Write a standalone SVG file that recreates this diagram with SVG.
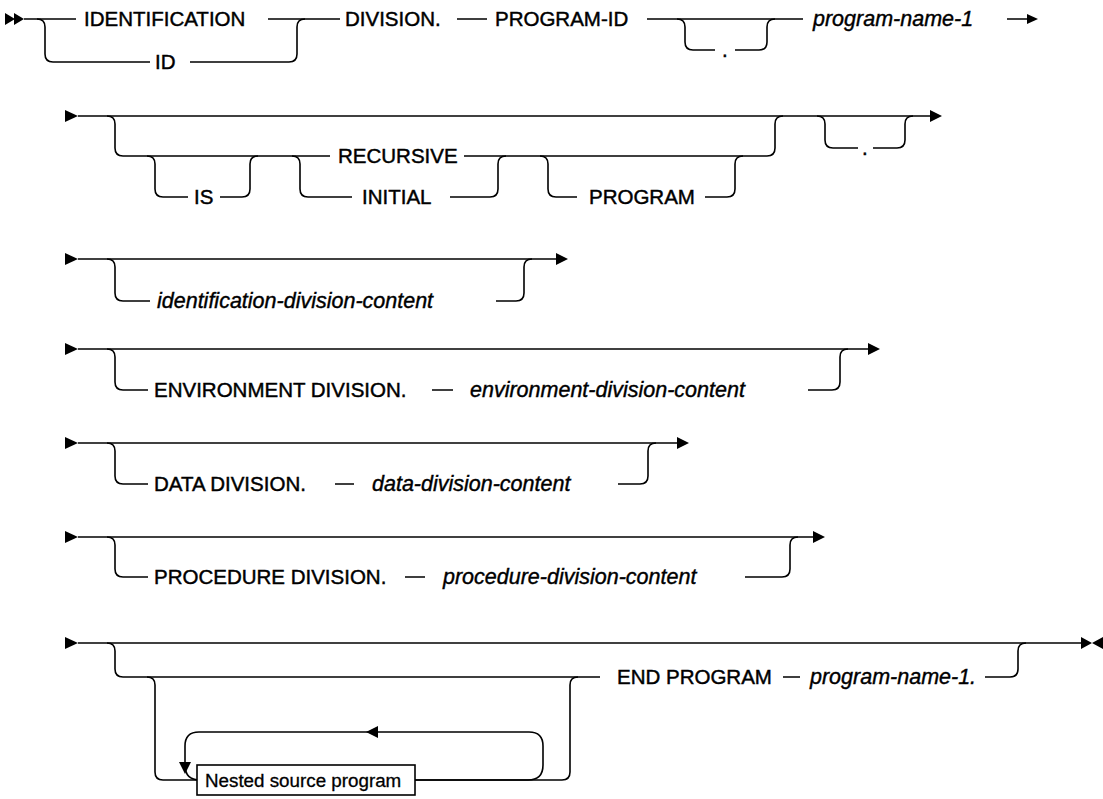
<svg xmlns="http://www.w3.org/2000/svg" width="1103" height="799" viewBox="0 0 1103 799">
<style>
.ln{fill:none;stroke:#000;stroke-width:1.6}
.ah{fill:#000;stroke:none}
.kw{font-family:"Liberation Sans",Arial,sans-serif;font-size:20.5px;fill:#000;stroke:#000;stroke-width:0.45}
.it{font-family:"Liberation Sans",Arial,sans-serif;font-size:21.5px;font-style:italic;fill:#000;stroke:#000;stroke-width:0.4}
.bx{fill:#fff;stroke:#000;stroke-width:1.6}
.bt{font-family:"Liberation Sans",Arial,sans-serif;font-size:18.8px;fill:#000;stroke:#000;stroke-width:0.3}
</style>
<rect width="1103" height="799" fill="#fff"/>
<g id="connectors">
<!-- row 1 -->
<path class="ah" d="M5,13 L15,19 L5,25 Z M14,13 L24,19 L14,25 Z"/>
<path class="ln" d="M24,19 H76 M268,19 H340 M457,19 H487 M647,19 H803 M1007,19 H1029"/>
<path class="ln" d="M37,19 Q45,19 45,27 V54 Q45,62 53,62 H150 M190,62 H289 Q297,62 297,54 V27 Q297,19 305,19"/>
<path class="ln" d="M677,19 Q685,19 685,27 V42 Q685,50 693,50 H715 M735,50 H759 Q767,50 767,42 V27 Q767,19 775,19"/>
<path class="ah" d="M1027,14 L1038,19 L1027,24 Z"/>
<!-- row 2 -->
<path class="ah" d="M65,110 L78,116 L65,122 Z"/>
<path class="ln" d="M78,116 H931"/>
<path class="ah" d="M930,110 L942,116 L930,122 Z"/>
<path class="ln" d="M107,116 Q115,116 115,124 V148 Q115,156 123,156 H330 M464,156 H767 Q775,156 775,148 V124 Q775,116 783,116"/>
<path class="ln" d="M147,156 Q155,156 155,164 V189 Q155,197 163,197 H188 M220,197 H242 Q250,197 250,189 V164 Q250,156 258,156"/>
<path class="ln" d="M292,156 Q300,156 300,164 V189 Q300,197 308,197 H352 M450,197 H490 Q498,197 498,189 V164 Q498,156 506,156"/>
<path class="ln" d="M540,156 Q548,156 548,164 V189 Q548,197 556,197 H577 M705,197 H727 Q735,197 735,189 V164 Q735,156 743,156"/>
<path class="ln" d="M817,116 Q825,116 825,124 V140 Q825,148 833,148 H858 M873,148 H897 Q905,148 905,140 V124 Q905,116 913,116"/>
<!-- row 3 -->
<path class="ah" d="M65,253 L78,259 L65,265 Z"/>
<path class="ln" d="M78,259 H557"/>
<path class="ah" d="M556,253 L568,259 L556,265 Z"/>
<path class="ln" d="M107,259 Q115,259 115,267 V293 Q115,301 123,301 H150 M496,301 H516 Q524,301 524,293 V267 Q524,259 532,259"/>
<!-- row 4 -->
<path class="ah" d="M65,343 L78,349 L65,355 Z"/>
<path class="ln" d="M78,349 H869"/>
<path class="ah" d="M868,343 L880,349 L868,355 Z"/>
<path class="ln" d="M107,349 Q115,349 115,357 V382 Q115,390 123,390 H148 M432,390 H453 M808,390 H832 Q840,390 840,382 V357 Q840,349 848,349"/>
<!-- row 5 -->
<path class="ah" d="M65,437 L78,443 L65,449 Z"/>
<path class="ln" d="M78,443 H678"/>
<path class="ah" d="M677,437 L689,443 L677,449 Z"/>
<path class="ln" d="M107,443 Q115,443 115,451 V476 Q115,484 123,484 H148 M335,484 H354 M618,484 H640 Q648,484 648,476 V451 Q648,443 656,443"/>
<!-- row 6 -->
<path class="ah" d="M65,531 L78,537 L65,543 Z"/>
<path class="ln" d="M78,537 H814"/>
<path class="ah" d="M813,531 L825,537 L813,543 Z"/>
<path class="ln" d="M107,537 Q115,537 115,545 V569 Q115,577 123,577 H148 M405,577 H425 M745,577 H782 Q790,577 790,569 V545 Q790,537 798,537"/>
<!-- row 7 -->
<path class="ah" d="M65,637 L78,643 L65,649 Z"/>
<path class="ln" d="M78,643 H1082"/>
<path class="ah" d="M1081,637 L1092,643 L1081,649 Z M1103,637 L1092,643 L1103,649 Z"/>
<path class="ln" d="M107,643 Q115,643 115,651 V669 Q115,677 123,677 H600 M783,677 H800 M985,677 H1010 Q1018,677 1018,669 V651 Q1018,643 1026,643"/>
<path class="ln" d="M147,677 Q155,677 155,685 V772 Q155,780 163,780 H197 M415,780 H562 Q570,780 570,772 V685 Q570,677 578,677"/>
<path class="ln" d="M415,780 H528 Q543,780 543,765 V746 Q543,732 529,732 H199 Q185,732 185,746 V765 Q185,780 200,780"/>
<path class="ah" d="M378,726 L366,732 L378,738 Z"/>
<path class="ah" d="M179,762 L185,774 L191,762 Z"/>
</g>
<g id="n-identification"><text class="kw" x="84" y="26">IDENTIFICATION</text></g>
<g id="n-id"><text class="kw" x="155" y="69">ID</text></g>
<g id="n-division"><text class="kw" x="345" y="26">DIVISION.</text></g>
<g id="n-program-id"><text class="kw" x="495" y="26">PROGRAM-ID</text></g>
<g id="n-dot1"><text class="kw" x="722" y="57">.</text></g>
<g id="n-program-name"><text class="it" x="813" y="26">program-name-1</text></g>
<g id="n-is"><text class="kw" x="194" y="204">IS</text></g>
<g id="n-recursive"><text class="kw" x="338" y="163">RECURSIVE</text></g>
<g id="n-initial"><text class="kw" x="362" y="204">INITIAL</text></g>
<g id="n-program"><text class="kw" x="589" y="204">PROGRAM</text></g>
<g id="n-dot2"><text class="kw" x="862" y="155">.</text></g>
<g id="n-idcontent"><text class="it" x="157" y="308">identification-division-content</text></g>
<g id="n-envdiv"><text class="kw" x="154" y="397">ENVIRONMENT DIVISION.</text></g>
<g id="n-envcontent"><text class="it" x="470" y="397">environment-division-content</text></g>
<g id="n-datadiv"><text class="kw" x="154" y="491">DATA DIVISION.</text></g>
<g id="n-datacontent"><text class="it" x="372" y="491">data-division-content</text></g>
<g id="n-procdiv"><text class="kw" x="154" y="584">PROCEDURE DIVISION.</text></g>
<g id="n-proccontent"><text class="it" x="443" y="584">procedure-division-content</text></g>
<g id="n-endprogram"><text class="kw" x="617" y="684">END PROGRAM</text></g>
<g id="n-endname"><text class="it" x="810" y="684">program-name-1.</text></g>
<g id="n-nested"><rect class="bx" x="197" y="765" width="218" height="30"/><text class="bt" x="205" y="787">Nested source program</text></g>
</svg>
